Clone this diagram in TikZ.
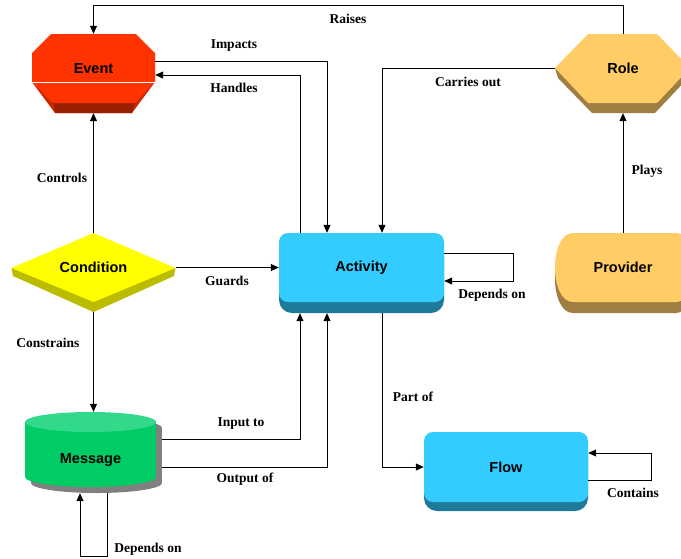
\documentclass[tikz,border=0pt]{standalone}
\usepackage{fontspec}
\setmainfont{Liberation Serif}
\newfontfamily\shapefont{Liberation Sans}
\usepackage{tikz}
\usetikzlibrary{calc,arrows.meta}
\tikzset{>={Triangle[length=8pt,width=7pt]}}

\definecolor{eventface}{HTML}{FF3300}
\definecolor{eventside}{HTML}{CC2900}
\definecolor{eventdark}{HTML}{992000}
\definecolor{condface}{HTML}{FFFF00}
\definecolor{conddark}{HTML}{BBBB00}
\definecolor{actface}{HTML}{33CCFF}
\definecolor{actdark}{HTML}{1F7A99}
\definecolor{roleface}{HTML}{FFCC66}
\definecolor{roledark}{HTML}{A07D40}
\definecolor{msgbody}{HTML}{00CC66}
\definecolor{msgtop}{HTML}{33D98A}
\definecolor{msgshadow}{HTML}{808080}

\tikzset{
  link/.style={draw=black,line width=0.8pt},
  tag/.style={font=\bfseries\fontsize{13.5}{15}\selectfont,inner sep=0pt},
  shapetext/.style={font=\shapefont\bfseries\fontsize{14.5}{16}\selectfont,inner sep=0pt},
}

\begin{document}
\begin{tikzpicture}[x=1pt,y=-1pt]
% Page is 681 x 558
\useasboundingbox (0,0) rectangle (681,558);
\clip (0,0) rectangle (681,558);

% Draw Event (octagon with its lower bevel)
\fill[eventside] (32,82) -- (55,113) -- (132,113) -- (155,82) -- cycle;
\fill[eventdark] (53,103) -- (135,103) -- (132,113) -- (55,113) -- cycle;
\fill[eventface] (51,34) -- (136,34) -- (155,53) -- (155,82) -- (135,103)
   -- (53,103) -- (32,82) -- (32,53) -- cycle;
\draw[white,line width=1pt] (32,82) -- (155,82);

% Draw Role (hexagon)
\fill[roledark] (555,68) -- (558,78) -- (592,113) -- (655,113) -- (688,78) -- (690,68) -- cycle;
\fill[roleface] (555,68) -- (588,34) -- (657,34) -- (690,68) -- (657,103) -- (588,103) -- cycle;

% Draw Condition (diamond)
\fill[conddark] (11.5,268) -- (13,276) -- (93.5,312) -- (174,276) -- (175.5,268) -- cycle;
\fill[condface] (93.5,233) -- (175.5,268) -- (93.5,302) -- (11.5,268) -- cycle;

% Draw Activity and Flow (rounded boxes)
\fill[actdark,rounded corners=13pt] (279,243) rectangle (444,313);
\fill[actface,rounded corners=9pt] (279,233) rectangle (444,302);
\fill[actdark,rounded corners=13pt] (424,441) rectangle (588,511);
\fill[actface,rounded corners=9pt] (424,432) rectangle (588,502);

% Draw Provider
\fill[roledark] (573,244) [rounded corners=10pt] -- (686,244) -- (686,313) [sharp corners]
   -- (573,313) .. controls (549,313) and (549,244) .. (573,244) -- cycle;
\fill[roleface] (573,233) [rounded corners=10pt] -- (686,233) -- (686,302) [sharp corners]
   -- (573,302) .. controls (549,302) and (549,233) .. (573,233) -- cycle;

% Draw Message (cylinder with shadow)
\fill[msgshadow] (31,428) rectangle (162,483);
\fill[msgshadow] (96.5,483) ellipse [x radius=65.5,y radius=10];
\fill[msgshadow] (96.5,428) ellipse [x radius=65.5,y radius=10];
\fill[msgbody] (25,422) rectangle (156,477);
\fill[msgbody] (90.5,477) ellipse [x radius=65.5,y radius=10];
\fill[msgtop] (90.5,422) ellipse [x radius=65.5,y radius=10];

% Nodes on the faces
\node[shapetext,minimum width=123pt,minimum height=69pt] (event) at (93.5,68.5) {Event};
\node[shapetext,minimum width=136pt,minimum height=69pt] (role) at (623,68.5) {Role};
\node[shapetext,minimum width=164pt,minimum height=69pt] (condition) at (93.5,267.5) {Condition};
\node[shapetext,minimum width=165pt,minimum height=69pt] (activity) at (361.5,267.5) {Activity};
\node[shapetext,minimum width=136pt,minimum height=69pt] (provider) at (623,267.5) {Provider};
\node[shapetext,minimum width=131pt,minimum height=75pt,text height=30pt,text depth=3pt] (message) at (90.5,449.5) {Message};
\node[shapetext,minimum width=164pt,minimum height=70pt] (flow) at (506,467) {Flow};

% Connectors
\draw[link,->] (role.north) -- ++(0,-28) -| (event.north);
\draw[link,->] ([yshift=7.5pt]event.east) -| ([xshift=-34.5pt]activity.north);
\draw[link,->] ([xshift=-61.5pt]activity.north) |- ([yshift=-6.5pt]event.east);
\draw[link,->] (role.west) -| ([xshift=20.5pt]activity.north);
\draw[link,->] (provider.north) -- ([yshift=-10pt]role.south);
\draw[link,->] (condition.north) -- ([yshift=-10pt]event.south);
\draw[link,->] (condition.east) -- (activity.west);
\draw[link,->] ([yshift=14.5pt]activity.east) -- ++(69,0) |- ([yshift=-13.5pt]activity.east);
\draw[link,->] ([yshift=-10pt]condition.south) -- (condition.south |- message.north);
\draw[link,->] ([xshift=6pt,yshift=10.5pt]message.east) -| ([xshift=-61.5pt,yshift=-11pt]activity.south);
\draw[link,->] ([xshift=6pt,yshift=-17.5pt]message.east) -| ([xshift=-34.5pt,yshift=-11pt]activity.south);
\draw[link,->] ([xshift=20.5pt,yshift=-11pt]activity.south) |- (flow.west);
\draw[link,->] ([yshift=-13pt]flow.east) -- ++(63,0) |- ([yshift=14pt]flow.east);
\draw[link,->] ([xshift=16.5pt,yshift=-6pt]message.south) -- ++(0,63) -| ([xshift=-10.5pt,yshift=-6pt]message.south);

% Labels
\node[tag] (raises) at (348,19) {Raises};
\node[tag] (impacts) at (234,46) {Impacts};
\node[tag] (handles) at (234,88) {Handles};
\node[tag] (carries) at (468,82) {Carries out};
\node[tag] (plays) at (647,171) {Plays};
\node[tag] (controls) at (62,178) {Controls};
\node[tag] (guards) at (227,281) {Guards};
\node[tag] (actdep) at (492,295) {Depends on};
\node[tag] (constrains) at (48,343) {Constrains};
\node[tag] (input) at (241,424) {Input to};
\node[tag] (output) at (245,479) {Output of};
\node[tag] (partof) at (413,397) {Part of};
\node[tag] (contains) at (633,493) {Contains};
\node[tag] (msgdep) at (148,549) {Depends on};
\end{tikzpicture}
\end{document}
